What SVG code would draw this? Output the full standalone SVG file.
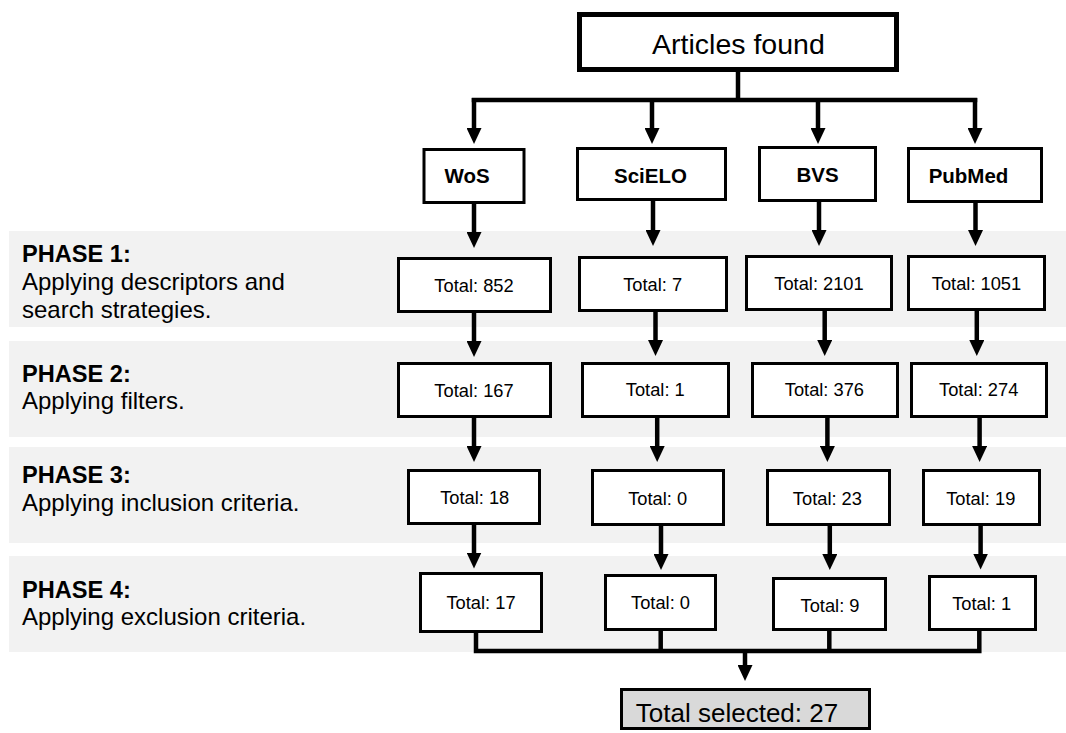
<svg xmlns="http://www.w3.org/2000/svg" width="1066" height="733" viewBox="0 0 1066 733">
<style>
  .band { fill: #f2f2f2; }
  .box { fill: #ffffff; stroke: #000000; stroke-width: 3; }
  .top { fill: #ffffff; stroke: #000000; stroke-width: 5; }
  .final { fill: #d9d9d9; stroke: #000000; stroke-width: 3; }
  .src { font-family: "Liberation Sans", Arial, sans-serif; font-weight: bold; font-size: 20.5px; text-anchor: middle; fill: #000; }
  .num { font-family: "Liberation Sans", Arial, sans-serif; font-size: 18.3px; text-anchor: middle; fill: #000; }
  .ph { font-family: "Liberation Sans", Arial, sans-serif; font-size: 24px; fill: #000; }
  .phb { font-family: "Liberation Sans", Arial, sans-serif; font-size: 23.6px; font-weight: bold; fill: #000; }
  .big { font-family: "Liberation Sans", Arial, sans-serif; font-size: 28.5px; text-anchor: middle; fill: #000; }
  .sel { font-family: "Liberation Sans", Arial, sans-serif; font-size: 26px; text-anchor: middle; fill: #000; }
  .ln { fill: none; stroke: #000000; stroke-width: 4.5; }
  .arr { fill: none; stroke: #000000; stroke-width: 4.5; marker-end: url(#ah); }
</style>
<defs>
  <marker id="ah" markerUnits="userSpaceOnUse" markerWidth="16" markerHeight="15" viewBox="0 0 16 15" refX="2" refY="7.5" orient="auto">
    <path d="M0,0 L16,7.5 L0,15 Z" fill="#000000"/>
  </marker>
</defs>

<g id="phase-bands">
  <rect class="band" x="9" y="231" width="1057" height="96"/>
  <rect class="band" x="9" y="341" width="1057" height="96"/>
  <rect class="band" x="9" y="447" width="1057" height="96"/>
  <rect class="band" x="9" y="556" width="1057" height="96"/>
</g>

<g id="phase-labels">
  <text class="phb" x="22" y="262">PHASE 1:</text>
  <text class="ph" x="22" y="290">Applying descriptors and</text>
  <text class="ph" x="22" y="318">search strategies.</text>
  <text class="phb" x="22" y="382">PHASE 2:</text>
  <text class="ph" x="22" y="409">Applying filters.</text>
  <text class="phb" x="22" y="483">PHASE 3:</text>
  <text class="ph" x="22" y="511">Applying inclusion criteria.</text>
  <text class="phb" x="22" y="598">PHASE 4:</text>
  <text class="ph" x="22" y="625">Applying exclusion criteria.</text>
</g>

<g id="connectors">
  <line class="ln" x1="738" y1="72" x2="738" y2="100"/>
  <line class="ln" x1="474" y1="100" x2="975" y2="100" stroke-linecap="square"/>
  <line class="arr" x1="474" y1="98" x2="474" y2="130"/>
  <line class="arr" x1="652" y1="98" x2="652" y2="130"/>
  <line class="arr" x1="818" y1="98" x2="818" y2="130"/>
  <line class="arr" x1="975" y1="98" x2="975" y2="130"/>

  <line class="arr" x1="474" y1="204" x2="474" y2="234"/>
  <line class="arr" x1="653" y1="201" x2="653" y2="232"/>
  <line class="arr" x1="819" y1="202" x2="819" y2="232"/>
  <line class="arr" x1="975.5" y1="203" x2="975.5" y2="232"/>

  <line class="arr" x1="474" y1="313" x2="474" y2="343"/>
  <line class="arr" x1="655.5" y1="312" x2="655.5" y2="342"/>
  <line class="arr" x1="824.7" y1="311" x2="824.7" y2="342"/>
  <line class="arr" x1="976.8" y1="311" x2="976.8" y2="342"/>

  <line class="arr" x1="474" y1="418" x2="474" y2="448"/>
  <line class="arr" x1="657.2" y1="418" x2="657.2" y2="448"/>
  <line class="arr" x1="827.4" y1="418" x2="827.4" y2="448"/>
  <line class="arr" x1="979.6" y1="418" x2="979.6" y2="448"/>

  <line class="arr" x1="474" y1="525" x2="474" y2="554.5"/>
  <line class="arr" x1="661" y1="525.5" x2="661" y2="556"/>
  <line class="arr" x1="829.8" y1="525.5" x2="829.8" y2="556"/>
  <line class="arr" x1="980.6" y1="525.5" x2="980.6" y2="555.5"/>

  <path class="ln" d="M476,633 V651 H979.3 V631" stroke-linejoin="miter"/>
  <line class="ln" x1="660.7" y1="631" x2="660.7" y2="651"/>
  <line class="ln" x1="829.3" y1="631" x2="829.3" y2="651"/>
  <line class="arr" x1="745" y1="651" x2="745" y2="667"/>
</g>

<g id="articles-found">
  <rect class="top" x="579.5" y="14.5" width="317" height="55"/>
  <text class="big" x="738.4" y="54">Articles found</text>
</g>

<g id="src-wos">
  <rect class="box" x="424" y="149.5" width="100" height="53"/>
  <text class="src" x="467" y="183">WoS</text>
</g>
<g id="src-scielo">
  <rect class="box" x="577.5" y="148.5" width="148" height="51"/>
  <text class="src" x="650.5" y="182.5">SciELO</text>
</g>
<g id="src-bvs">
  <rect class="box" x="759.5" y="147.5" width="116" height="53"/>
  <text class="src" x="817.5" y="182">BVS</text>
</g>
<g id="src-pubmed">
  <rect class="box" x="908.5" y="148.5" width="133" height="53"/>
  <text class="src" x="968.5" y="182.5">PubMed</text>
</g>

<g id="p1-wos">
  <rect class="box" x="398.5" y="258.5" width="152" height="53"/>
  <text class="num" x="474" y="291.5">Total: 852</text>
</g>
<g id="p1-scielo">
  <rect class="box" x="579.5" y="257.5" width="147" height="53"/>
  <text class="num" x="652.7" y="291">Total: 7</text>
</g>
<g id="p1-bvs">
  <rect class="box" x="746.5" y="256.5" width="145" height="53"/>
  <text class="num" x="819" y="290">Total: 2101</text>
</g>
<g id="p1-pubmed">
  <rect class="box" x="908.5" y="256.5" width="136" height="53"/>
  <text class="num" x="976.5" y="290">Total: 1051</text>
</g>

<g id="p2-wos">
  <rect class="box" x="398.5" y="363.5" width="152" height="53"/>
  <text class="num" x="474" y="396.5">Total: 167</text>
</g>
<g id="p2-scielo">
  <rect class="box" x="582.5" y="363.5" width="146" height="53"/>
  <text class="num" x="655.3" y="396">Total: 1</text>
</g>
<g id="p2-bvs">
  <rect class="box" x="752.5" y="363.5" width="145" height="53"/>
  <text class="num" x="824.4" y="396">Total: 376</text>
</g>
<g id="p2-pubmed">
  <rect class="box" x="911.5" y="363.5" width="135" height="53"/>
  <text class="num" x="978.7" y="396">Total: 274</text>
</g>

<g id="p3-wos">
  <rect class="box" x="408.5" y="470.5" width="131" height="53"/>
  <text class="num" x="474.7" y="503.5">Total: 18</text>
</g>
<g id="p3-scielo">
  <rect class="box" x="592.5" y="470.5" width="131" height="54"/>
  <text class="num" x="657.7" y="505">Total: 0</text>
</g>
<g id="p3-bvs">
  <rect class="box" x="767.5" y="470.5" width="122" height="54"/>
  <text class="num" x="827.4" y="505">Total: 23</text>
</g>
<g id="p3-pubmed">
  <rect class="box" x="923.5" y="470.5" width="116" height="54"/>
  <text class="num" x="980.8" y="505">Total: 19</text>
</g>

<g id="p4-wos">
  <rect class="box" x="420.5" y="573.5" width="121" height="58"/>
  <text class="num" x="481" y="609.3">Total: 17</text>
</g>
<g id="p4-scielo">
  <rect class="box" x="605.5" y="575.5" width="110" height="54"/>
  <text class="num" x="660.5" y="609.3">Total: 0</text>
</g>
<g id="p4-bvs">
  <rect class="box" x="773.5" y="578.5" width="112" height="51"/>
  <text class="num" x="830" y="611.7">Total: 9</text>
</g>
<g id="p4-pubmed">
  <rect class="box" x="929.5" y="576.5" width="106" height="53"/>
  <text class="num" x="981.7" y="610">Total: 1</text>
</g>

<g id="total-selected">
  <rect class="final" x="621.5" y="689.5" width="248" height="39"/>
  <text class="sel" x="737" y="722">Total selected: 27</text>
</g>
</svg>
